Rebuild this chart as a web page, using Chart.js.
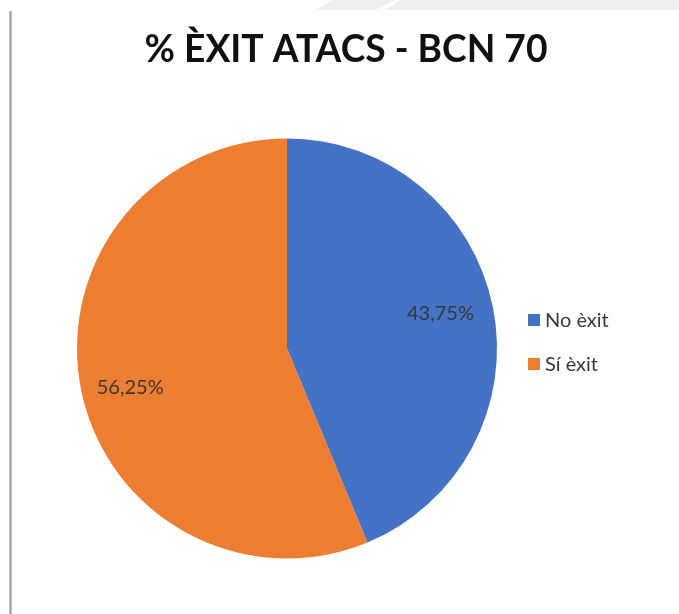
<!DOCTYPE html>
<html>
<head>
<meta charset="utf-8">
<title>% ÈXIT ATACS - BCN 70</title>
<script src="https://cdn.jsdelivr.net/npm/chart.js@4/dist/chart.umd.min.js"></script>
<style>
  body { margin: 0; background: #fff; }
  #wrap { position: relative; width: 679px; height: 614px; overflow: hidden; background: #fff; }
  #wrap canvas { position: absolute; left: 0; top: 0; }
  .band { position: absolute; top: 0; height: 10px; background: #efefef; }
  #band1 { left: 316px; width: 78px; clip-path: polygon(16px 0, 78px 0, 60px 100%, 0 100%); }
  #band2 { left: 384px; width: 295px; clip-path: polygon(17px 0, 100% 0, 100% 100%, 0 100%); }
  #edge { position: absolute; left: 9px; top: 11px; width: 3px; height: 603px;
          background: linear-gradient(to right, #d0d0d0, #a0a0a0, #d0d0d0); }
</style>
</head>
<body>
<div id="wrap">
  <div class="band" id="band1"></div>
  <div class="band" id="band2"></div>
  <div id="edge"></div>
  <canvas id="pieChart" width="679" height="614"></canvas>
</div>
<script>
const chartTitle = '% ÈXIT ATACS - BCN 70';
const categories = ['No èxit', 'Sí èxit'];
const percentages = [43.75, 56.25];
const sliceColors = ['#4472C4', '#ED7D31'];

// 43.75 -> "43,75%"
const formatPct = v => v.toFixed(2).replace('.', ',') + '%';

// Title, data labels and legend drawn the way the spreadsheet did it
const excelLook = {
    id: 'excelLook',
    afterDatasetsDraw(chart, args, opts) {
        const ctx = chart.ctx;
        const meta = chart.getDatasetMeta(0);
        const values = chart.data.datasets[0].data;
        ctx.save();

        // data labels inside the slices (best fit nudges them a bit off the middle)
        ctx.fillStyle = '#383838';
        ctx.font = '20px Lato';
        ctx.textAlign = 'center';
        ctx.textBaseline = 'middle';
        meta.data.forEach((arc, i) => {
            const mid = (arc.startAngle + arc.endAngle) / 2 + opts.labelShift[i] * Math.PI / 180;
            const r = arc.outerRadius * opts.labelRadius[i];
            ctx.fillText(formatPct(values[i]), arc.x + Math.cos(mid) * r, arc.y + Math.sin(mid) * r);
        });

        // title, sized to the width it has in the picture
        ctx.fillStyle = '#111';
        ctx.font = 'bold 40px Lato';
        const w = ctx.measureText(opts.title).width;
        const size = 40 * opts.titleWidth / w;
        ctx.font = 'bold ' + size.toFixed(1) + 'px Lato';
        ctx.textBaseline = 'alphabetic';
        ctx.fillText(opts.title, opts.titleX, opts.titleY);

        // legend
        ctx.textAlign = 'left';
        ctx.textBaseline = 'middle';
        ctx.font = '20px Lato';
        chart.data.labels.forEach((label, i) => {
            const y = opts.legendY + i * opts.legendGap;
            ctx.fillStyle = sliceColors[i];
            ctx.fillRect(opts.legendX, y - 6, 12, 12);
            ctx.fillStyle = '#383838';
            ctx.fillText(label, opts.legendX + 17, y + 1);
        });
        ctx.restore();
    }
};

new Chart(document.getElementById('pieChart'), {
    type: 'pie',
    data: {
        labels: categories,
        datasets: [{
            data: percentages,
            backgroundColor: sliceColors,
            borderWidth: 0
        }]
    },
    options: {
        responsive: false,
        animation: false,
        layout: {
            padding: { left: 77, right: 182, top: 138, bottom: 55 }
        },
        plugins: {
            legend: { display: false },
            title: { display: false },
            tooltip: { enabled: false },
            excelLook: {
                title: chartTitle,
                titleWidth: 403,
                titleX: 346,
                titleY: 62,
                labelRadius: [0.75, 0.77],
                labelShift: [-1.75, -2.85],
                legendX: 528,
                legendY: 320,
                legendGap: 44
            }
        }
    },
    plugins: [excelLook]
});
</script>
</body>
</html>
